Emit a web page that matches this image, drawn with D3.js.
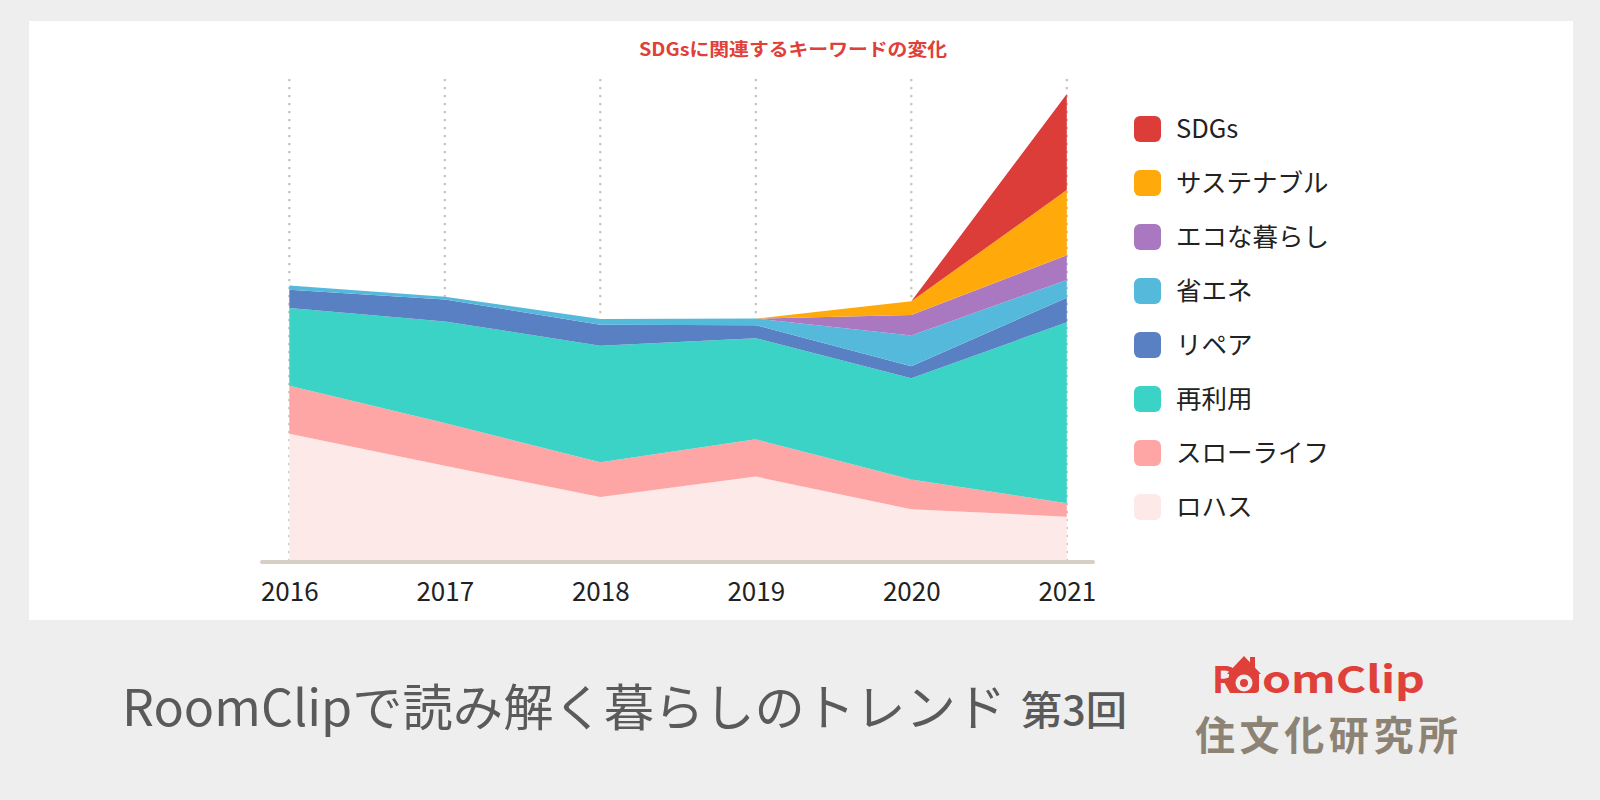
<!DOCTYPE html>
<html>
<head>
<meta charset="utf-8">
<script src="https://cdn.jsdelivr.net/npm/d3@7/dist/d3.min.js"></script>
<style>
  html, body { margin: 0; padding: 0; background: #eeeeee; }
  svg { display: block; }
  text { font-family: "Noto Sans CJK JP", "Noto Sans", sans-serif; }
</style>
</head>
<body>
<svg id="chart" width="1600" height="800"></svg>
<script>
// ---- data (relative index units) ----
const years = [2016, 2017, 2018, 2019, 2020, 2021];
const yearLabels = ["2016", "2017", "2018", "2019", "2020", "2021"];
const seriesNames = ["ロハス", "スローライフ", "再利用", "リペア", "省エネ", "エコな暮らし", "サステナブル", "SDGs"];
const lohas       = [27.1, 20.2, 13.5, 17.9, 10.9, 9.3];
const slowlife    = [10.3, 9.2, 7.5, 8.0, 6.4, 2.9];
const reuse       = [16.7, 21.8, 25.0, 21.7, 21.7, 38.8];
const repair      = [3.9, 4.7, 4.5, 2.8, 2.6, 5.3];
const shoene      = [0.9, 0.6, 1.2, 1.4, 6.6, 3.8];
const eco         = [0, 0, 0, 0, 4.4, 5.3];
const sustainable = [0, 0, 0, 0, 2.9, 14.0];
const sdgs        = [0, 0, 0, 0, 0, 20.6];
const seriesColors = ["#fde9e8", "#fea6a6", "#3bd3c6", "#5a80c4", "#55b9dc", "#a978c0", "#ffa90a", "#dc3d38"];
const chartTitle = "SDGsに関連するキーワードの変化";
const footerTitle = "RoomClipで読み解く暮らしのトレンド";
const footerSub = "第3回";

const seriesValues = [lohas, slowlife, reuse, repair, shoene, eco, sustainable, sdgs];
const table = years.map((y, i) => {
  const row = { year: y };
  seriesNames.forEach((n, k) => row[n] = seriesValues[k][i]);
  return row;
});

const svg = d3.select("#chart");

// background panel
svg.append("rect").attr("x", 0).attr("y", 0).attr("width", 1600).attr("height", 800).attr("fill", "#eeeeee");
svg.append("rect").attr("x", 29).attr("y", 21).attr("width", 1544).attr("height", 599).attr("fill", "#ffffff");

const x = d3.scaleLinear().domain([2016, 2021]).range([289.3, 1066.8]);
const y = d3.scaleLinear().domain([0, 100]).range([560, 94]);

// dotted gridlines
svg.append("g").selectAll("line").data(years).join("line")
  .attr("x1", d => x(d)).attr("x2", d => x(d))
  .attr("y1", 79).attr("y2", 560)
  .attr("stroke", "#c9c3ba").attr("stroke-width", 2.2)
  .attr("stroke-dasharray", "2.2,5.8");

// stacked areas
const stack = d3.stack().keys(seriesNames);
const layers = stack(table);
const area = d3.area()
  .x(d => x(d.data.year))
  .y0(d => y(d[0]))
  .y1(d => y(d[1]));
svg.append("g").selectAll("path").data(layers).join("path")
  .attr("d", area)
  .attr("fill", (d, i) => seriesColors[i]);

// x axis baseline
svg.append("line")
  .attr("x1", 262).attr("x2", 1093).attr("y1", 562).attr("y2", 562)
  .attr("stroke", "#d6cfc5").attr("stroke-width", 4).attr("stroke-linecap", "round");

// year labels via axis
const axis = d3.axisBottom(x).tickValues(years).tickFormat((d, i) => yearLabels[i]).tickSize(0).tickPadding(0);
const gAxis = svg.append("g").attr("transform", "translate(0,601)").call(axis);
gAxis.select(".domain").remove();
gAxis.selectAll("text")
  .attr("dy", 0).attr("y", 0)
  .attr("fill", "#222")
  .style("font-family", "'Noto Sans CJK JP', sans-serif")
  .style("font-size", "26px");

// title
svg.append("text").attr("x", 793).attr("y", 56).attr("text-anchor", "middle")
  .attr("fill", "#e0403a").style("font-size", "18px").style("font-weight", "700")
  .attr("textLength", 308).attr("lengthAdjust", "spacingAndGlyphs")
  .text(chartTitle);

// legend
const legendOrder = seriesNames.map((n, i) => i).reverse();
const lg = svg.append("g").selectAll("g").data(legendOrder).join("g")
  .attr("transform", (d, j) => `translate(1134, ${116 + j * 54})`);
lg.append("rect").attr("width", 27).attr("height", 26).attr("rx", 6)
  .attr("fill", d => seriesColors[d]);
lg.append("text").attr("x", 42).attr("y", 22)
  .attr("fill", "#222").style("font-size", "25.5px")
  .text(d => seriesNames[d]);

// footer title
svg.append("text").attr("x", 122).attr("y", 726)
  .attr("fill", "#5a5a5a").style("font-size", "50px")
  .attr("textLength", 884).attr("lengthAdjust", "spacingAndGlyphs")
  .text(footerTitle);
svg.append("text").attr("x", 1021).attr("y", 725)
  .attr("fill", "#5a5a5a").style("font-size", "40px").style("font-weight", "500")
  .attr("textLength", 106).attr("lengthAdjust", "spacingAndGlyphs")
  .text(footerSub);

// logo
const logo = svg.append("g");
const red = "#e0403a";
logo.append("text").attr("x", 1212).attr("y", 693).attr("fill", red)
  .style("font-size", "37px").style("font-weight", "700").text("R");
// camera/house "o"
logo.append("rect").attr("x", 1250).attr("y", 657).attr("width", 5).attr("height", 12).attr("fill", red);
logo.append("path")
  .attr("d", "M1227,674 L1244,656 L1261,674 Z")
  .attr("fill", red);
logo.append("rect").attr("x", 1229).attr("y", 671).attr("width", 30).attr("height", 22).attr("rx", 4)
  .attr("fill", red);
logo.append("circle").attr("cx", 1244).attr("cy", 683).attr("r", 8.5).attr("fill", "#eeeeee");
logo.append("circle").attr("cx", 1244).attr("cy", 683).attr("r", 4).attr("fill", red);
logo.append("text").attr("x", 1262).attr("y", 693).attr("fill", red)
  .style("font-size", "37px").style("font-weight", "700")
  .attr("textLength", 163).attr("lengthAdjust", "spacingAndGlyphs")
  .text("omClip");
logo.append("text").attr("x", 1195).attr("y", 750).attr("fill", "#8c8375")
  .style("font-size", "40px").style("font-weight", "700")
  .attr("textLength", 263).attr("lengthAdjust", "spacing")
  .text("住文化研究所");
</script>
</body>
</html>
